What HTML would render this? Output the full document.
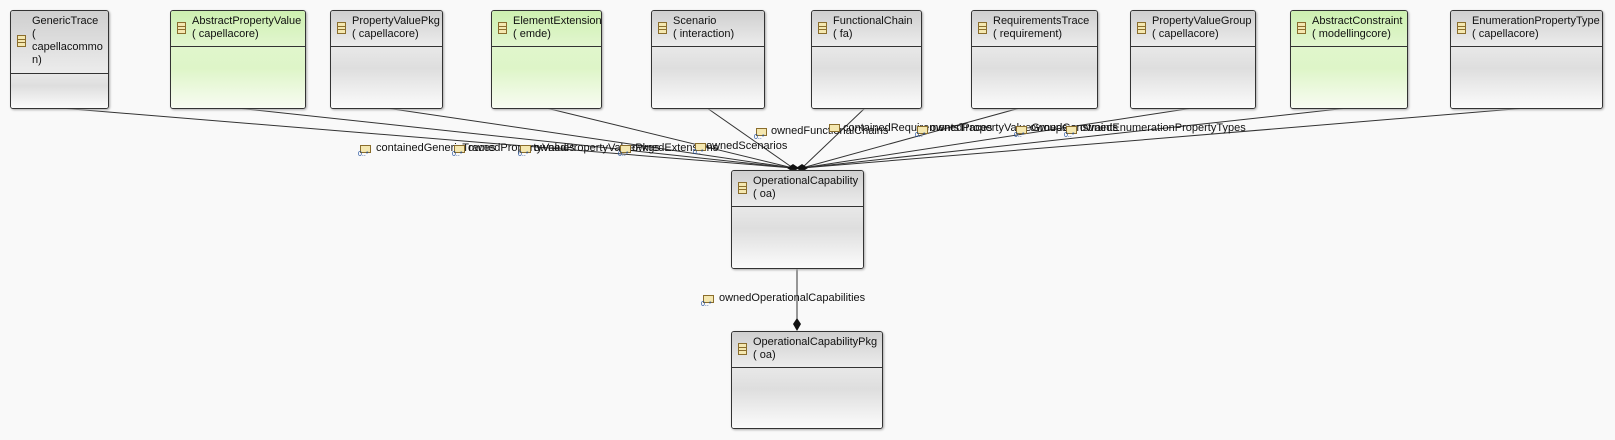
<!DOCTYPE html>
<html><head><meta charset="utf-8"><style>
body{margin:0;width:1615px;height:440px;background:#f9f9f9;position:relative;overflow:hidden;font-family:"Liberation Sans","DejaVu Sans",sans-serif;}
.b{position:absolute;border:1px solid #333;border-radius:3px;box-shadow:1px 1px 2px #aaa;overflow:hidden;background:#eee;}
.b .h{position:absolute;left:0;right:0;top:0;border-bottom:1px solid #333;background:linear-gradient(#cfcfcf,#ececec);}
.b .bd{position:absolute;left:0;right:0;bottom:0;background:linear-gradient(#e8e8e8,#dedede 35%,#fbfbfb);}
.g .h{background:linear-gradient(#cdf0b0,#e2f6cf);}
.g .bd{background:linear-gradient(#e0f6cc,#def5c8 35%,#f8fcf2);}
.t{position:absolute;left:21px;top:4px;font-size:11px;line-height:13px;color:#111;white-space:nowrap;}
.ic{position:absolute;left:6px;width:7px;height:10px;border:1px solid #8a6d2c;background:#f4e7b0;}
.ic:before,.ic:after{content:"";position:absolute;left:0;right:0;height:1px;background:#8a6d2c;}
.ic:before{top:3px}.ic:after{top:6px}
.l{position:absolute;font-size:11px;color:#111;white-space:nowrap;}
.li{position:absolute;width:9px;height:6px;border:1px solid #8a6d2c;background:#f4e7b0;}
.lm{position:absolute;font-size:7px;color:#1a4a9a;}
</style></head><body>
<svg width="1615" height="440" style="position:absolute;left:0;top:0">
<g stroke="#333" stroke-width="1" fill="none">
<line x1="60" y1="108" x2="793" y2="168"/>
<line x1="237" y1="108" x2="793" y2="168"/>
<line x1="386" y1="108" x2="793" y2="168"/>
<line x1="546" y1="108" x2="793" y2="168"/>
<line x1="707" y1="108" x2="793" y2="168"/>
<line x1="865" y1="108" x2="802" y2="168"/>
<line x1="1020" y1="108" x2="802" y2="168"/>
<line x1="1193" y1="108" x2="802" y2="168"/>
<line x1="1348" y1="108" x2="802" y2="168"/>
<line x1="1527" y1="108" x2="802" y2="168"/>
<line x1="797" y1="268" x2="797" y2="325"/>
</g>
<g fill="#111">
<polygon points="787,168 793,164 799,168 793,172"/>
<polygon points="796,168 802,164 808,168 802,172"/>
<polygon points="797,318 801,324 797,331 793,324"/>
</g>
</svg>

<div class="b" style="left:10px;top:10px;width:97px;height:97px"><div class="h" style="height:62px"></div><div class="bd" style="top:63px"></div><div class="ic" style="top:24px"></div><div class="t">GenericTrace<br>(<br>capellacommo<br>n)</div></div>
<div class="b g" style="left:170px;top:10px;width:134px;height:97px"><div class="h" style="height:35px"></div><div class="bd" style="top:36px"></div><div class="ic" style="top:11px"></div><div class="t">AbstractPropertyValue<br>( capellacore)</div></div>
<div class="b" style="left:330px;top:10px;width:111px;height:97px"><div class="h" style="height:35px"></div><div class="bd" style="top:36px"></div><div class="ic" style="top:11px"></div><div class="t">PropertyValuePkg<br>( capellacore)</div></div>
<div class="b g" style="left:491px;top:10px;width:109px;height:97px"><div class="h" style="height:35px"></div><div class="bd" style="top:36px"></div><div class="ic" style="top:11px"></div><div class="t">ElementExtension<br>( emde)</div></div>
<div class="b" style="left:651px;top:10px;width:112px;height:97px"><div class="h" style="height:35px"></div><div class="bd" style="top:36px"></div><div class="ic" style="top:11px"></div><div class="t">Scenario<br>( interaction)</div></div>
<div class="b" style="left:811px;top:10px;width:109px;height:97px"><div class="h" style="height:35px"></div><div class="bd" style="top:36px"></div><div class="ic" style="top:11px"></div><div class="t">FunctionalChain<br>( fa)</div></div>
<div class="b" style="left:971px;top:10px;width:125px;height:97px"><div class="h" style="height:35px"></div><div class="bd" style="top:36px"></div><div class="ic" style="top:11px"></div><div class="t">RequirementsTrace<br>( requirement)</div></div>
<div class="b" style="left:1130px;top:10px;width:124px;height:97px"><div class="h" style="height:35px"></div><div class="bd" style="top:36px"></div><div class="ic" style="top:11px"></div><div class="t">PropertyValueGroup<br>( capellacore)</div></div>
<div class="b g" style="left:1290px;top:10px;width:116px;height:97px"><div class="h" style="height:35px"></div><div class="bd" style="top:36px"></div><div class="ic" style="top:11px"></div><div class="t">AbstractConstraint<br>( modellingcore)</div></div>
<div class="b" style="left:1450px;top:10px;width:151px;height:97px"><div class="h" style="height:35px"></div><div class="bd" style="top:36px"></div><div class="ic" style="top:11px"></div><div class="t">EnumerationPropertyType<br>( capellacore)</div></div>

<div class="b" style="left:731px;top:170px;width:131px;height:97px"><div class="h" style="height:35px"></div><div class="bd" style="top:36px"></div><div class="ic" style="top:11px"></div><div class="t">OperationalCapability<br>( oa)</div></div>
<div class="b" style="left:731px;top:331px;width:150px;height:96px"><div class="h" style="height:35px"></div><div class="bd" style="top:36px"></div><div class="ic" style="top:11px"></div><div class="t">OperationalCapabilityPkg<br>( oa)</div></div>

<div class="li" style="left:360px;top:145px"></div><div class="lm" style="left:358px;top:151px">0..*</div><div class="l" style="left:376px;top:142px">containedGenericTraces</div>
<div class="li" style="left:454px;top:145px"></div><div class="lm" style="left:452px;top:151px">0..*</div><div class="l" style="left:468px;top:142px">ownedPropertyValues</div>
<div class="li" style="left:520px;top:145px"></div><div class="lm" style="left:518px;top:151px">0..*</div><div class="l" style="left:534px;top:142px">ownedPropertyValuePkgs</div>
<div class="li" style="left:620px;top:145px"></div><div class="lm" style="left:618px;top:151px">0..*</div><div class="l" style="left:632px;top:142px">ownedExtensions</div>
<div class="li" style="left:695px;top:143px"></div><div class="lm" style="left:693px;top:149px">0..*</div><div class="l" style="left:706px;top:140px">ownedScenarios</div>
<div class="li" style="left:756px;top:128px"></div><div class="lm" style="left:754px;top:134px">0..*</div><div class="l" style="left:771px;top:125px">ownedFunctionalChains</div>
<div class="li" style="left:829px;top:124px"></div><div class="l" style="left:843px;top:122px">containedRequirementsTraces</div>
<div class="li" style="left:917px;top:126px"></div><div class="lm" style="left:915px;top:132px">0..*</div><div class="l" style="left:930px;top:122px">ownedPropertyValueGroups</div>
<div class="li" style="left:1016px;top:126px"></div><div class="lm" style="left:1014px;top:132px">0..*</div><div class="l" style="left:1030px;top:122px">ownedConstraints</div>
<div class="li" style="left:1066px;top:126px"></div><div class="lm" style="left:1064px;top:132px">0..*</div><div class="l" style="left:1080px;top:122px">ownedEnumerationPropertyTypes</div>
<div class="li" style="left:703px;top:295px"></div><div class="lm" style="left:701px;top:301px">0..*</div><div class="l" style="left:719px;top:292px">ownedOperationalCapabilities</div>
</body></html>
